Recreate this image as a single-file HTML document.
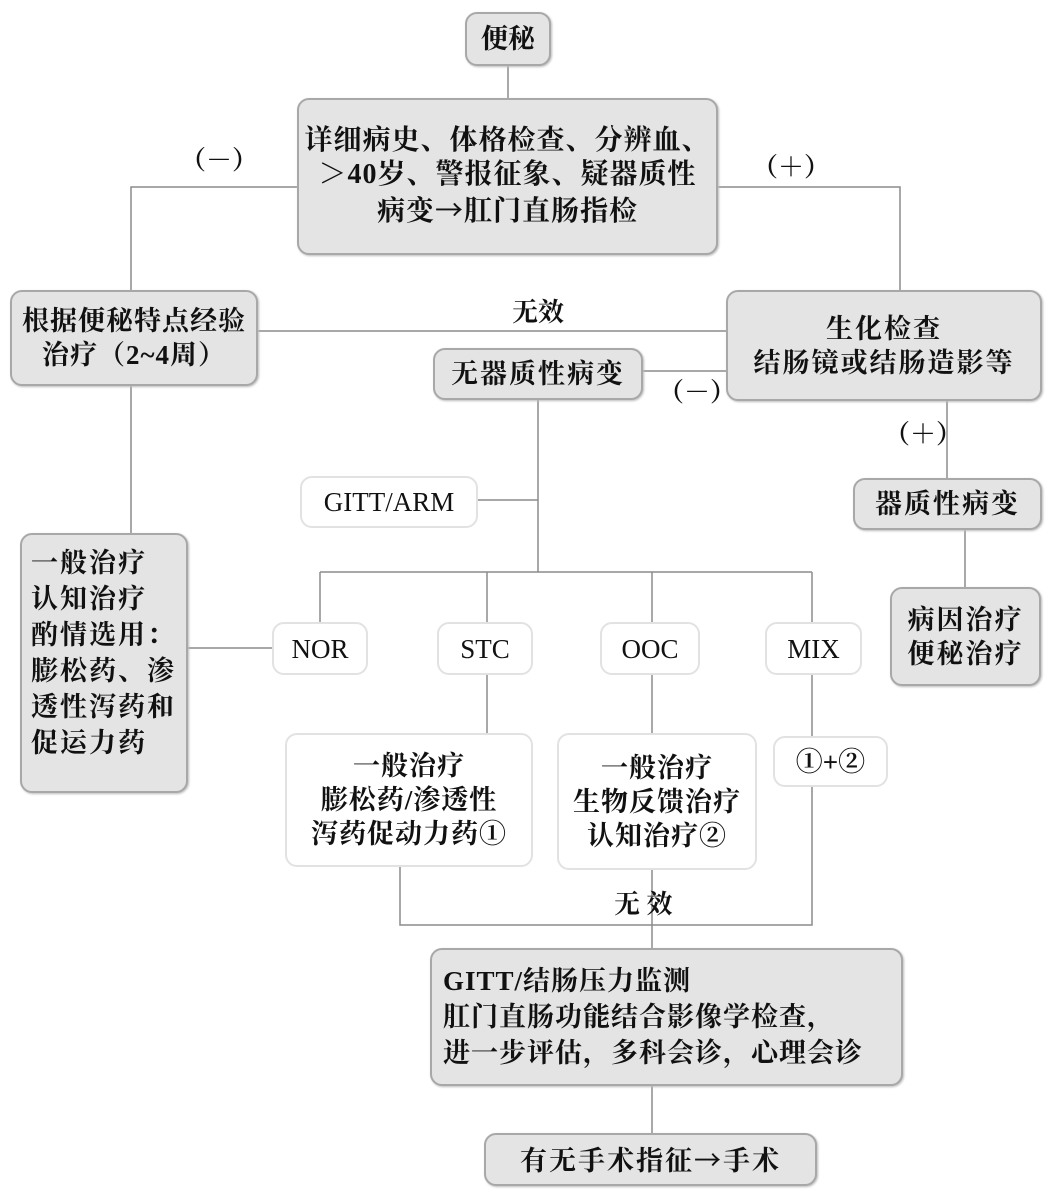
<!DOCTYPE html>
<html><head><meta charset="utf-8"><style>
body{margin:0;width:1063px;height:1202px;background:#fff;position:relative;overflow:hidden;font-family:"Liberation Serif","Noto Serif CJK SC",serif;color:#111;font-weight:bold}
.b{position:absolute;box-sizing:border-box;border-radius:12px;display:flex;justify-content:center;align-items:center;text-align:center;font-size:27px;line-height:34px;letter-spacing:2px;white-space:nowrap}
.g{background:#e4e4e4;border:2px solid #a8a8a8;box-shadow:1px 1px 2px #bbb}
.w{background:#fff;border:2px solid #e2e2e2}
.t{position:absolute;font-size:26px;line-height:30px;white-space:nowrap}
.a{font-family:"Noto Sans CJK SC",sans-serif;font-weight:normal}
svg{position:absolute;left:0;top:0}
</style></head><body>
<svg width="1063" height="1202" stroke="#8c8c8c" stroke-width="1.5" fill="none">
<line x1="508" y1="66" x2="508" y2="98"/>
<polyline points="297,187 131,187 131,290"/>
<polyline points="718,187 900,187 900,290"/>
<line x1="258" y1="331" x2="726" y2="331"/>
<line x1="643" y1="371" x2="726" y2="371"/>
<line x1="947" y1="400" x2="947" y2="478"/>
<line x1="965" y1="530" x2="965" y2="587"/>
<line x1="131" y1="385" x2="131" y2="533"/>
<line x1="538" y1="400" x2="538" y2="572"/>
<line x1="478" y1="500" x2="538" y2="500"/>
<line x1="320" y1="572" x2="812" y2="572"/>
<line x1="320" y1="572" x2="320" y2="622"/>
<line x1="487" y1="572" x2="487" y2="622"/>
<line x1="652" y1="572" x2="652" y2="622"/>
<line x1="812" y1="572" x2="812" y2="622"/>
<line x1="188" y1="648" x2="272" y2="648"/>
<line x1="487" y1="675" x2="487" y2="733"/>
<line x1="652" y1="675" x2="652" y2="733"/>
<line x1="812" y1="675" x2="812" y2="738"/>
<polyline points="400,867 400,925 812,925 812,787"/>
<line x1="652" y1="870" x2="652" y2="948"/>
<line x1="652" y1="1085" x2="652" y2="1133"/>
</svg>
<div class="b g" style="left:465px;top:12px;width:86px;height:54px;letter-spacing:0"><div>便秘</div></div>
<div class="b g" style="left:297px;top:98px;width:421px;height:157px;line-height:34px;font-size:28px;letter-spacing:1px"><div>详细病史、体格检查、分辨血、<br>＞40岁、警报征象、疑器质性<br>病变<span class="a">→</span>肛门直肠指检</div></div>
<div class="t" style="left:180px;top:146px">（－）</div>
<div class="t" style="left:752px;top:153px">（＋）</div>
<div class="b g" style="left:10px;top:290px;width:248px;height:96px;letter-spacing:1px"><div>根据便秘特点经验<br>治疗（2~4周）</div></div>
<div class="t" style="left:512px;top:298px">无效</div>
<div class="b g" style="left:726px;top:290px;width:316px;height:111px"><div>生化检查<br>结肠镜或结肠造影等</div></div>
<div class="b g" style="left:433px;top:348px;width:210px;height:52px"><div>无器质性病变</div></div>
<div class="t" style="left:658px;top:378px">（－）</div>
<div class="t" style="left:884px;top:420px">（＋）</div>
<div class="b g" style="left:853px;top:478px;width:189px;height:52px"><div>器质性病变</div></div>
<div class="b g" style="left:890px;top:587px;width:151px;height:99px"><div>病因治疗<br>便秘治疗</div></div>
<div class="b g" style="left:20px;top:533px;width:168px;height:260px;justify-content:flex-start;text-align:left;padding-left:9px;line-height:36px;padding-bottom:20px"><div>一般治疗<br>认知治疗<br>酌情选用：<br>膨松药、渗<br>透性泻药和<br>促运力药</div></div>
<div class="b w" style="left:300px;top:476px;width:178px;height:52px;font-weight:normal;letter-spacing:0"><div>GITT/ARM</div></div>
<div class="b w" style="left:272px;top:622px;width:96px;height:53px;font-weight:normal;letter-spacing:0"><div>NOR</div></div>
<div class="b w" style="left:437px;top:622px;width:96px;height:53px;font-weight:normal;letter-spacing:0"><div>STC</div></div>
<div class="b w" style="left:600px;top:622px;width:100px;height:53px;font-weight:normal;letter-spacing:0"><div>OOC</div></div>
<div class="b w" style="left:765px;top:622px;width:97px;height:53px;font-weight:normal;letter-spacing:0"><div>MIX</div></div>
<div class="b w" style="left:285px;top:733px;width:248px;height:134px;letter-spacing:1px"><div>一般治疗<br>膨松药/渗透性<br>泻药促动力药①</div></div>
<div class="b w" style="left:557px;top:733px;width:200px;height:137px;letter-spacing:1px"><div>一般治疗<br>生物反馈治疗<br>认知治疗②</div></div>
<div class="b w" style="left:773px;top:736px;width:115px;height:51px;letter-spacing:0"><div>①+②</div></div>
<div class="t" style="left:614px;top:890px">无 效</div>
<div class="b g" style="left:430px;top:948px;width:473px;height:138px;justify-content:flex-start;text-align:left;padding-left:11px;line-height:36px;letter-spacing:1px"><div>GITT/结肠压力监测<br>肛门直肠功能结合影像学检查，<br>进一步评估，多科会诊，心理会诊</div></div>
<div class="b g" style="left:484px;top:1133px;width:333px;height:53px"><div>有无手术指征<span class="a">→</span>手术</div></div>
</body></html>
